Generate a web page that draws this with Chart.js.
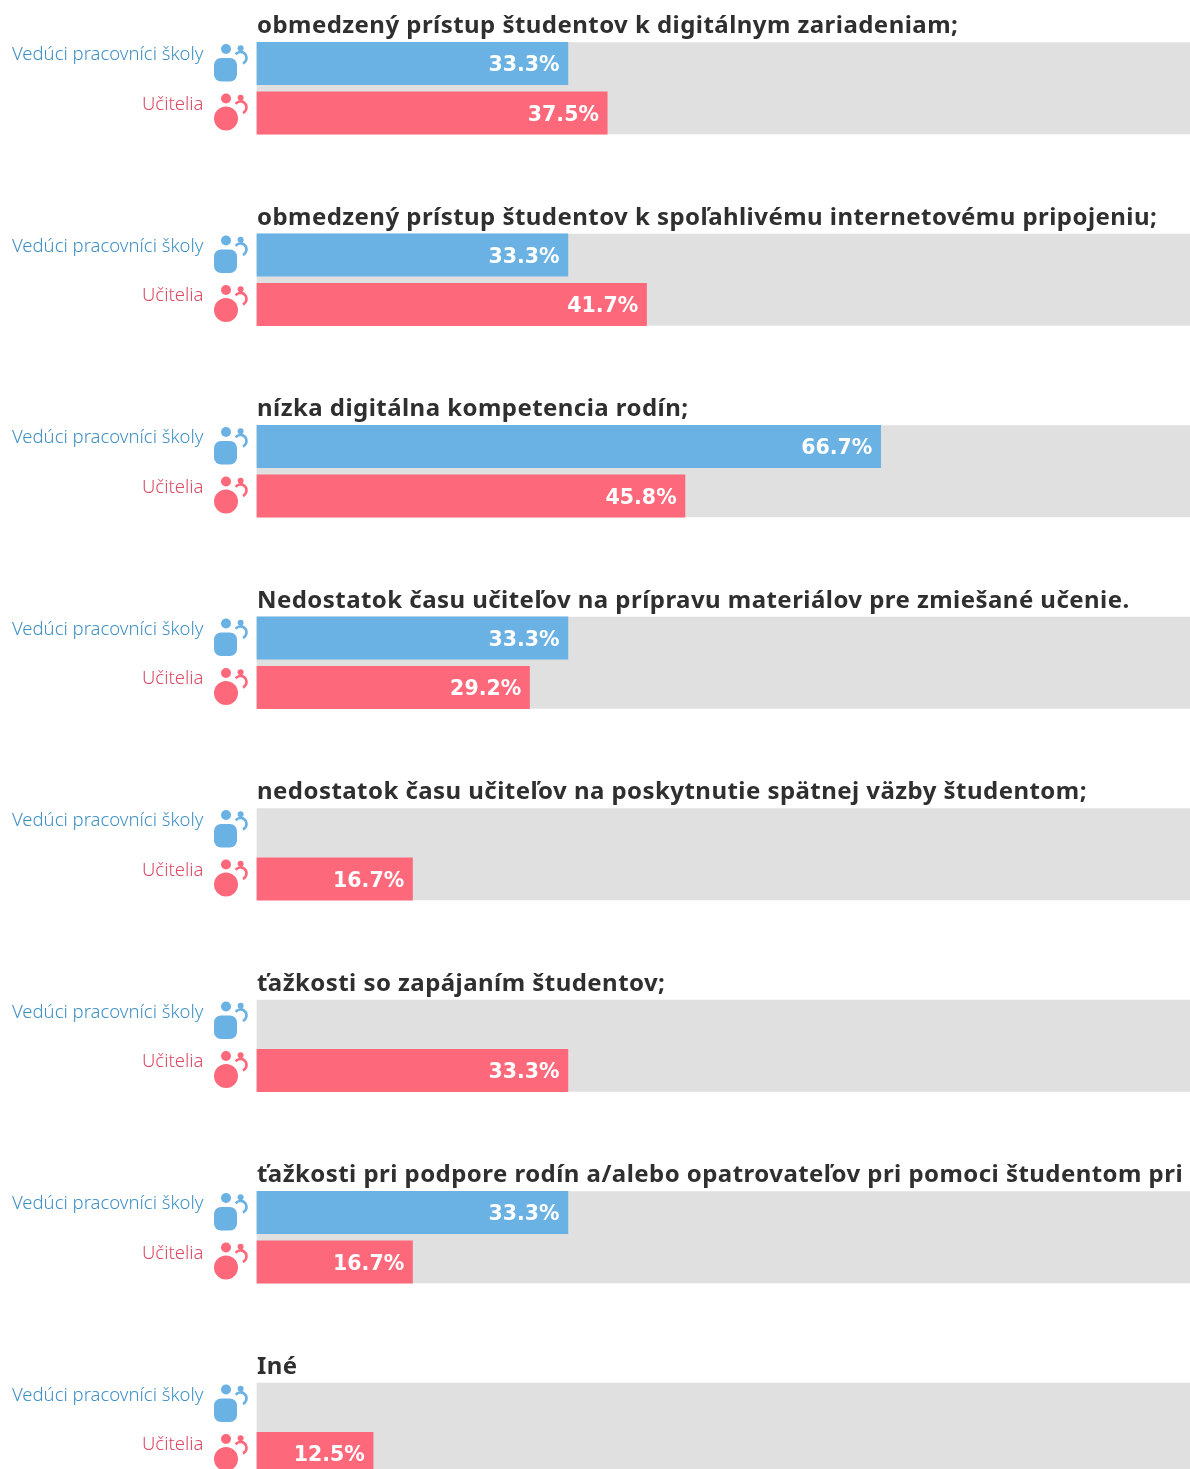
<!DOCTYPE html>
<html lang="sk"><head><meta charset="utf-8">
<style>html,body{margin:0;padding:0;background:#fff;overflow:hidden}#w{position:relative;width:1190px;height:1469px}</style>
<script src="https://cdn.jsdelivr.net/npm/chart.js@4"></script></head>
<body><div id="w"><canvas id="c" width="1190" height="1469"></canvas></div>
<script>
const categories = [
 "obmedzený prístup študentov k digitálnym zariadeniam;",
 "obmedzený prístup študentov k spoľahlivému internetovému pripojeniu;",
 "nízka digitálna kompetencia rodín;",
 "Nedostatok času učiteľov na prípravu materiálov pre zmiešané učenie.",
 "nedostatok času učiteľov na poskytnutie spätnej väzby študentom;",
 "ťažkosti so zapájaním študentov;",
 "ťažkosti pri podpore rodín a/alebo opatrovateľov pri pomoci študentom pri",
 "Iné"
];
const seriesNames = ["Vedúci pracovníci školy", "Učitelia"];
const leaders  = [33.3, 33.3, 66.7, 33.3, null, null, 33.3, null];
const teachers = [37.5, 41.7, 45.8, 29.2, 16.7, 33.3, 16.7, 12.5];
const track    = [100, 100, 100, 100, 100, 100, 100, 100];

const BLUE="#6bb2e4", RED="#fd687b", BLUE_T="#3f90c6", RED_T="#dc4a63";
const toPts = a => a.map((v,i)=>({x:v,y:i}));
const intTicks = s => { s.ticks = categories.map((_,i)=>({value:i})); };

function icon(ctx,kind,cy,color){
  ctx.save(); ctx.fillStyle=color; ctx.strokeStyle=color;
  const d = -14.5;
  ctx.beginPath(); ctx.arc(226,cy+d,5,0,7); ctx.fill();
  ctx.beginPath(); ctx.arc(240.6,cy+d-.8,3,0,7); ctx.fill();
  ctx.lineWidth=2.7;
  ctx.beginPath(); ctx.arc(240.5,cy+d+9,6,-2.5,1.15); ctx.stroke();
  ctx.beginPath();
  if(kind===0){ ctx.roundRect(214,cy-5.5,23,23.5,7); }
  else { ctx.arc(226,cy+5.5,12,0,7); }
  ctx.fill(); ctx.restore();
}
const decor = {
  id:"decor",
  afterDatasetsDraw(chart){
    const {ctx,scales:{y},chartArea:ca}=chart;
    ctx.save();
    const metas=[chart.getDatasetMeta(1),chart.getDatasetMeta(2)];
    categories.forEach((t,i)=>{
      const c=y.getPixelForValue(i);
      ctx.textBaseline="alphabetic"; ctx.textAlign="left";
      ctx.font='700 24px "Noto Sans"'; ctx.fillStyle="#2f2f2f"; ctx.letterSpacing="0.45px";
      ctx.fillText(t,ca.left+.6,c-55);
      ctx.letterSpacing="0px";
      metas.forEach((m,k)=>{
        const el=m.data[i];
        const cy=el.y;
        ctx.textAlign="right";
        ctx.font='300 18.5px "Noto Sans"'; ctx.fillStyle=k?RED_T:BLUE_T;
        ctx.fillText(seriesNames[k],203.5,cy-3);
        icon(ctx,k,cy,k?RED:BLUE);
        const v=(k?teachers:leaders)[i];
        if(v!=null){
          ctx.font='700 20.5px "DejaVu Sans"'; ctx.fillStyle="#fff";
          ctx.fillText(v.toFixed(1)+"%",el.x-8.6,cy+8);
        }
      });
    });
    ctx.restore();
  }
};
new Chart(document.getElementById("c"),{
  type:"bar",
  data:{datasets:[
    {label:"track",data:toPts(track),grouped:false,backgroundColor:"#e0e0e0",order:2,categoryPercentage:.48,barPercentage:1},
    {label:seriesNames[0],data:toPts(leaders),backgroundColor:BLUE,order:1,categoryPercentage:.517,barPercentage:.869},
    {label:seriesNames[1],data:toPts(teachers),backgroundColor:RED,order:1,categoryPercentage:.517,barPercentage:.869}
  ]},
  options:{
    indexAxis:"y",responsive:false,animation:false,
    layout:{padding:{left:256.4,right:0,top:0,bottom:0}},
    plugins:{legend:{display:false},tooltip:{enabled:false}},
    scales:{
      x:{type:"linear",min:0,max:99.7,display:false},
      y:{type:"linear",min:-.4605,max:7.2105,reverse:true,display:false,offset:false,afterBuildTicks:intTicks}
    }
  },
  plugins:[decor]
});
</script></body></html>
